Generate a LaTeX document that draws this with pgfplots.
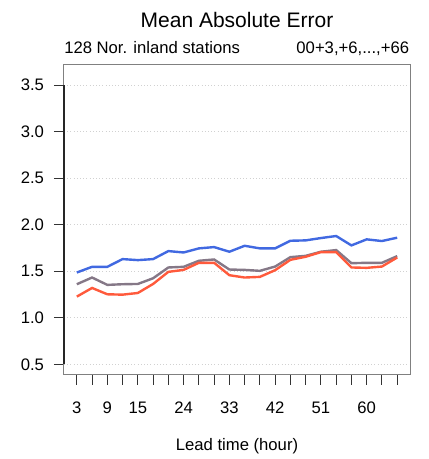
\documentclass[border=0pt]{standalone}
\usepackage{fontspec}
\setmainfont{Liberation Sans}
\usepackage{pgfplots}
\pgfplotsset{compat=1.18}
\definecolor{cblue}{HTML}{4169E1}
\definecolor{cred}{HTML}{FF5A3C}
\definecolor{cgray}{HTML}{857887}
\begin{document}
\begin{tikzpicture}
\path[use as bounding box] (0pt,0pt) rectangle (321pt,344.25pt);
\begin{axis}[
  at={(48pt,63pt)}, anchor=south west,
  scale only axis, width=259.5pt, height=232.5pt,
  xmin=0.48, xmax=68.52, ymin=0.385, ymax=3.715,
  xtick={3,6,...,66},
  xticklabels={3,,9,,15,,,24,,,33,,,42,,,51,,,60,,},
  ytick={0.5,1.0,1.5,2.0,2.5,3.0,3.5},
  yticklabel style={xshift=-4pt, /pgf/number format/fixed, /pgf/number format/fixed zerofill, /pgf/number format/precision=1, /pgf/number format/assume math mode=true},
  xticklabel style={yshift=-9pt, /pgf/number format/assume math mode=true},
  tick label style={font=\fontsize{12.5}{14}\selectfont},
  tick align=outside, major tick length=7.5pt,
  tick style={draw=black!80, line width=0.75pt},
  xtick pos=bottom, ytick pos=left,
  axis line style={draw=black!50, line width=0.75pt},
  ymajorgrids, major grid style={draw=black!18, dotted, line width=0.6pt},
  clip=false,
]
\draw[black!85, line width=0.8pt] (axis cs:0.48,0.5) -- (axis cs:0.48,3.5);
\addplot[cblue, line width=1.8pt] coordinates {
(3,1.486) (6,1.547) (9,1.547) (12,1.630) (15,1.619) (18,1.630) (21,1.716) (24,1.701)
(27,1.745) (30,1.759) (33,1.709) (36,1.773) (39,1.745) (42,1.745) (45,1.827) (48,1.831)
(51,1.856) (54,1.878) (57,1.777) (60,1.842) (63,1.824) (66,1.860)};
\addplot[cgray, line width=1.8pt] coordinates {
(3,1.360) (6,1.432) (9,1.353) (12,1.360) (15,1.363) (18,1.424) (21,1.540) (24,1.547)
(27,1.612) (30,1.626) (33,1.518) (36,1.514) (39,1.504) (42,1.550) (45,1.651) (48,1.665)
(51,1.709) (54,1.727) (57,1.586) (60,1.590) (63,1.590) (66,1.662)};
\addplot[cred, line width=1.8pt] coordinates {
(3,1.227) (6,1.320) (9,1.252) (12,1.248) (15,1.266) (18,1.363) (21,1.493) (24,1.514)
(27,1.590) (30,1.590) (33,1.457) (36,1.432) (39,1.439) (42,1.511) (45,1.622) (48,1.655)
(51,1.705) (54,1.705) (57,1.540) (60,1.536) (63,1.550) (66,1.647)};
\end{axis}
\node[anchor=base, font=\fontsize{15.75}{18}\selectfont, inner sep=0pt] at (177.75pt,323.8pt) {Mean Absolute Error};
\node[anchor=base west, font=\fontsize{12.5}{14}\selectfont, inner sep=0pt] at (48pt,304.3pt) {128 Nor. inland stations};
\node[anchor=base east, font=\fontsize{12.5}{14}\selectfont, inner sep=0pt] at (307pt,304.3pt) {00+3,+6,...,+66};
\node[anchor=base, font=\fontsize{12.5}{14}\selectfont, inner sep=0pt] at (177.75pt,6pt) {Lead time (hour)};
\end{tikzpicture}
\end{document}
